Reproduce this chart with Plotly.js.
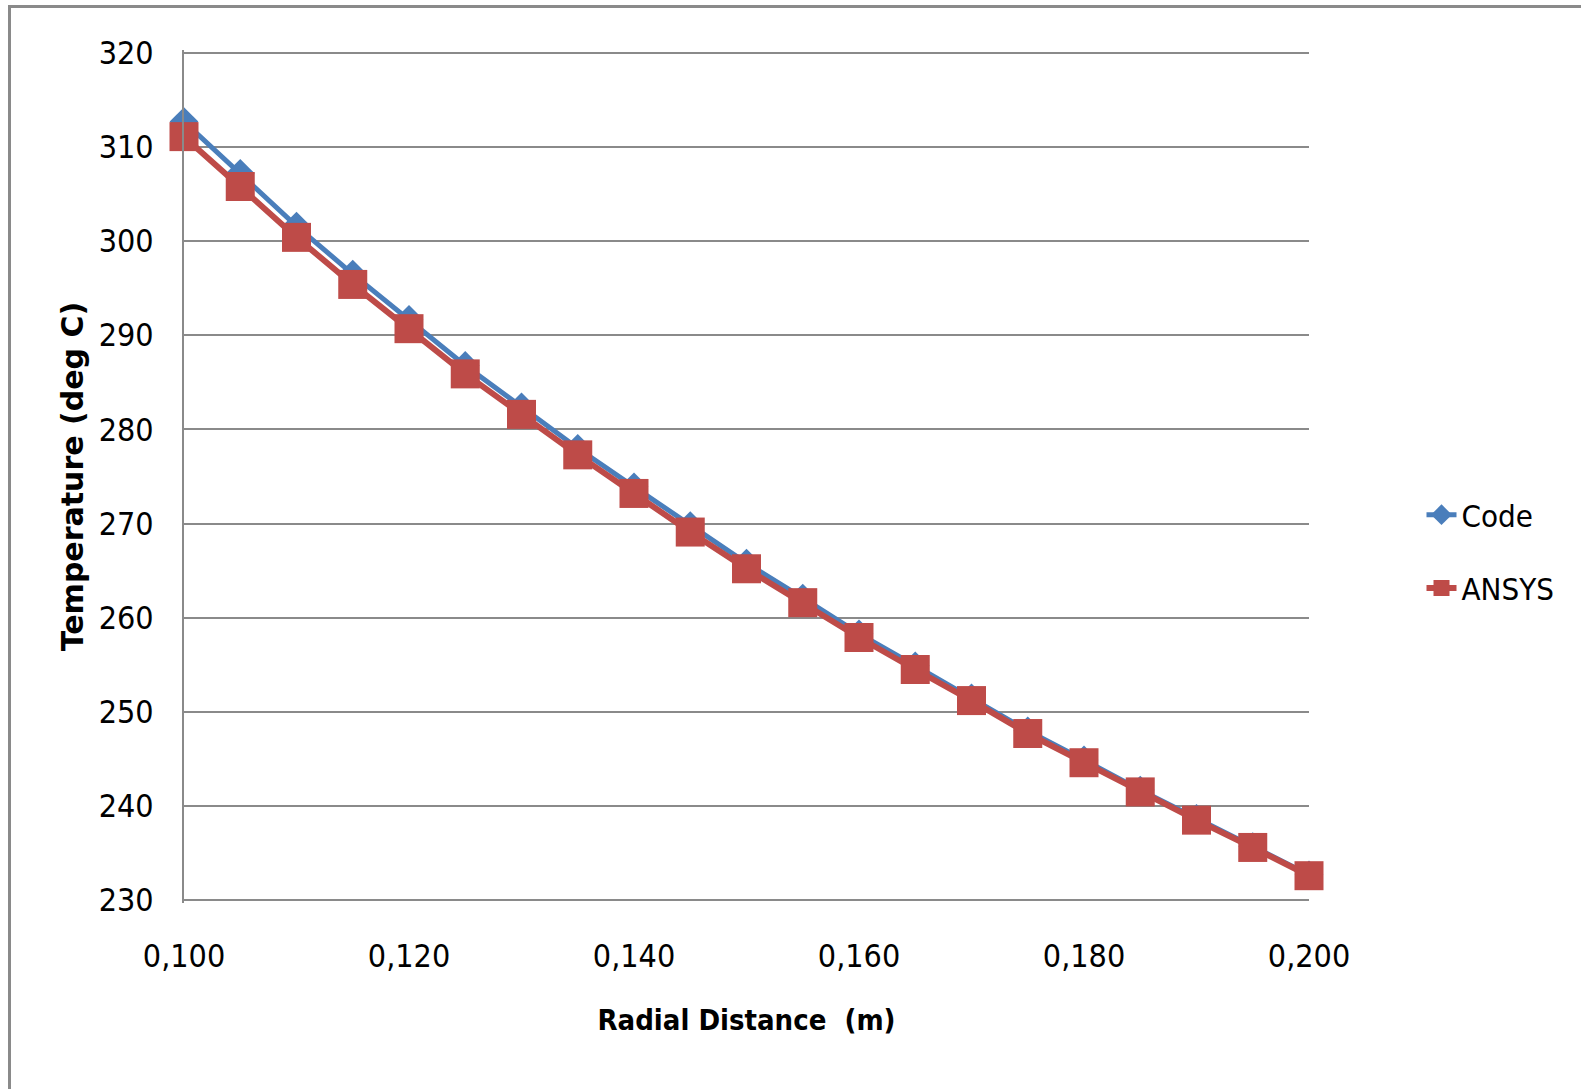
<!DOCTYPE html>
<html>
<head>
<meta charset="utf-8">
<script src="https://cdn.plot.ly/plotly-3.0.1.min.js"></script>
<style>
  html, body { margin: 0; padding: 0; background: #ffffff; overflow: hidden; }
  #frame {
    position: absolute; left: 8px; top: 5px; width: 1700px; height: 1200px;
    border-left: 3px solid #8a8a8a; border-top: 3px solid #8a8a8a;
    pointer-events: none; z-index: 5;
  }
  #chart { width: 1581px; height: 1089px; }
</style>
</head>
<body>
<div id="frame"></div>
<div id="chart"></div>
<script>
// Radial distance (m)
const radius = [0.100, 0.105, 0.110, 0.115, 0.120, 0.125, 0.130, 0.135, 0.140, 0.145, 0.150,
                0.155, 0.160, 0.165, 0.170, 0.175, 0.180, 0.185, 0.190, 0.195, 0.200];

// Temperature (deg C) from the in-house code
const codeTemp = [312.7, 307.2, 301.6, 296.5, 291.7, 286.8, 282.4, 278.0, 273.9, 269.8, 265.8,
                  262.1, 258.3, 254.9, 251.5, 248.0, 244.9, 241.7, 238.7, 235.7, 232.7];

// Temperature (deg C) from ANSYS
const ansysTemp = [311.1, 305.8, 300.4, 295.4, 290.7, 285.9, 281.6, 277.3, 273.2, 269.1, 265.2,
                   261.6, 257.9, 254.5, 251.2, 247.7, 244.6, 241.5, 238.5, 235.6, 232.6];

const seriesNames = ["Code", "ANSYS"];
const yTicks = [230, 240, 250, 260, 270, 280, 290, 300, 310, 320];
const xTicks = [0.100, 0.120, 0.140, 0.160, 0.180, 0.200];

const labelFont = '"Liberation Sans Narrow", "DejaVu Sans Condensed", "Liberation Sans", sans-serif';

const traces = [
  {
    x: radius, y: codeTemp, name: seriesNames[0], type: "scatter", mode: "lines+markers",
    legendgroup: "a",
    line: { color: "#4a7ebb", width: 5 },
    marker: { symbol: "diamond", size: 22, color: "#4a7ebb" },
    cliponaxis: false
  },
  {
    x: radius, y: ansysTemp, name: seriesNames[1], type: "scatter", mode: "lines+markers",
    legendgroup: "b",
    line: { color: "#be4b48", width: 6 },
    marker: { symbol: "square", size: 29, color: "#be4b48" },
    cliponaxis: false
  }
];

const layout = {
  width: 1581, height: 1089,
  // a small pad around the 230..320 band keeps its end gridlines drawn
  margin: { l: 184, r: 272, t: 50, b: 186 },
  paper_bgcolor: "#ffffff", plot_bgcolor: "#ffffff",
  separators: ", ",
  showlegend: true,
  legend: {
    x: 1.10, y: 0.412, xanchor: "left", yanchor: "middle",
    font: { family: labelFont, size: 31, color: "#000000" },
    tracegroupgap: 30, itemwidth: 30, bgcolor: "rgba(0,0,0,0)"
  },
  xaxis: {
    range: [0.1, 0.2], tickvals: xTicks, tickformat: ".3f",
    showgrid: false, zeroline: false, showline: false, ticks: "",
    ticklabelstandoff: 31,
    tickfont: { family: labelFont, size: 32, color: "#000000" },
    title: { text: "Radial Distance  (m)", standoff: 35,
             font: { family: labelFont, size: 29, color: "#000000", weight: "bold" } }
  },
  yaxis: {
    range: [229.7, 320.3], tickvals: yTicks,
    showgrid: true, gridcolor: "#8a8a8a", gridwidth: 2,
    zeroline: false, showline: true, linecolor: "#8a8a8a", linewidth: 2, ticks: "",
    ticklabelstandoff: 22,
    tickfont: { family: labelFont, size: 32, color: "#000000" },
    title: { text: "Temperature (deg C)", standoff: 6,
             font: { family: '"DejaVu Sans", sans-serif', size: 30, color: "#000000", weight: "bold" } }
  }
};

Plotly.newPlot("chart", traces, layout, { displayModeBar: false, staticPlot: true });
</script>
</body>
</html>
